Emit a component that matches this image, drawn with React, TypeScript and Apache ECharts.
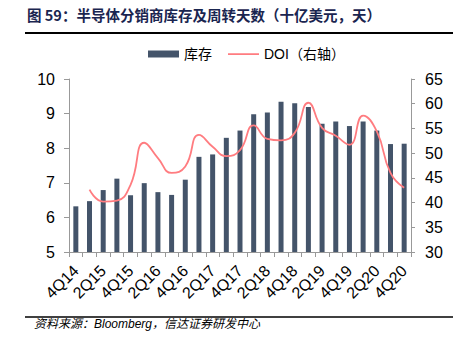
import React, { useEffect, useRef } from "react";
import * as echarts from "echarts";

const categories = [
  "4Q14", "1Q15", "2Q15", "3Q15", "4Q15", "1Q16", "2Q16", "3Q16", "4Q16",
  "1Q17", "2Q17", "3Q17", "4Q17", "1Q18", "2Q18", "3Q18", "4Q18",
  "1Q19", "2Q19", "3Q19", "4Q19", "1Q20", "2Q20", "3Q20", "4Q20",
];
const inventory = [
  6.32, 6.47, 6.79, 7.12, 6.64, 6.99, 6.73, 6.65, 7.09,
  7.75, 7.82, 8.3, 8.51, 8.98, 9.03, 9.34, 9.3,
  9.19, 8.71, 8.77, 8.64, 8.77, 8.51, 8.12, 8.13,
];
const doi = [
  null, 42.6, 40.2, 40.4, 43.6, 52.1, 49.0, 46.0, 47.3,
  53.7, 51.3, 49.4, 50.6, 55.6, 52.9, 52.6, 54.1,
  60.2, 55.1, 53.5, 51.7, 57.6, 54.4, 46.0, 43.0,
];
const titleText = "图 59：半导体分销商库存及周转天数（十亿美元，天）";
const sourceText = "资料来源：Bloomberg，信达证券研发中心";

export default function App() {
  const ref = useRef<HTMLDivElement>(null);
  useEffect(() => {
    const chart = echarts.init(ref.current!, null, { renderer: "svg" });
    const font = "'Liberation Sans', Arial, 'Noto Sans CJK SC', sans-serif";
    chart.setOption({
      animation: false,
      textStyle: { fontFamily: font },
      graphic: [
        {
          type: "text",
          left: 27,
          top: 7,
          style: {
            text: titleText,
            fontSize: 14.5,
            fontWeight: "bold",
            fill: "#1a2550",
            fontFamily: "'Noto Sans CJK SC', sans-serif",
          },
        },
        { type: "line", shape: { x1: 0, y1: 23, x2: 3, y2: 23 }, style: { stroke: "#000", lineWidth: 1.5 } },
        { type: "line", shape: { x1: 25, y1: 33, x2: 455, y2: 33 }, style: { stroke: "#000", lineWidth: 2 } },
        { type: "line", shape: { x1: 25, y1: 317, x2: 455, y2: 317 }, style: { stroke: "#000", lineWidth: 1.5 } },
        { type: "line", shape: { x1: 0, y1: 325, x2: 3, y2: 325 }, style: { stroke: "#000", lineWidth: 1.5 } },
        {
          type: "text",
          left: 34,
          top: 318,
          style: {
            text: sourceText,
            fontSize: 12,
            fontStyle: "italic",
            fill: "#000",
            fontFamily: "'Liberation Sans', 'Noto Sans CJK SC', sans-serif",
          },
        },
      ],
      legend: {
        left: 143,
        top: 42,
        itemWidth: 31,
        itemHeight: 7,
        itemGap: 16,
        textStyle: { fontSize: 14, color: "#000", fontFamily: font },
        data: [
          { name: "库存", icon: "rect" },
          {
            name: "DOI（右轴）",
            icon: "path://M0,0 L0,0 Z M0,2.8 L31,2.8 L31,4.4 L0,4.4 Z M0,7 L0,7 Z",
            itemStyle: { color: "#FF7C80", borderWidth: 0 },
          },
        ],
      },
      grid: { left: 69, right: 50, top: 79, height: 173 },
      xAxis: {
        type: "category",
        data: categories,
        axisLine: { lineStyle: { color: "#999" } },
        axisTick: { show: true, length: 5, interval: 0, lineStyle: { color: "#999" } },
        axisLabel: { rotate: 45, interval: 1, fontSize: 16, color: "#000", margin: 16 },
      },
      yAxis: [
        {
          type: "value",
          min: 5,
          max: 10,
          interval: 1,
          splitLine: { show: false },
          axisLine: { show: true, lineStyle: { color: "#999" } },
          axisTick: { show: true, length: 5, lineStyle: { color: "#999" } },
          axisLabel: { fontSize: 16, color: "#000", margin: 14 },
        },
        {
          type: "value",
          min: 30,
          max: 65,
          interval: 5,
          splitLine: { show: false },
          axisLine: { show: true, lineStyle: { color: "#999" } },
          axisTick: { show: true, length: 4, lineStyle: { color: "#999" } },
          axisLabel: { fontSize: 16, color: "#000", margin: 14 },
        },
      ],
      series: [
        {
          name: "库存",
          type: "bar",
          data: inventory,
          barWidth: 5,
          itemStyle: { color: "#44546A" },
        },
        {
          name: "DOI（右轴）",
          type: "line",
          yAxisIndex: 1,
          data: doi,
          smooth: 0.5,
          symbol: "none",
          lineStyle: { color: "#FF7C80", width: 1.8 },
          itemStyle: { color: "#FF7C80" },
        },
      ],
    });
    return () => chart.dispose();
  }, []);
  return <div ref={ref} style={{ width: 461, height: 347, margin: -8 }} />;
}
